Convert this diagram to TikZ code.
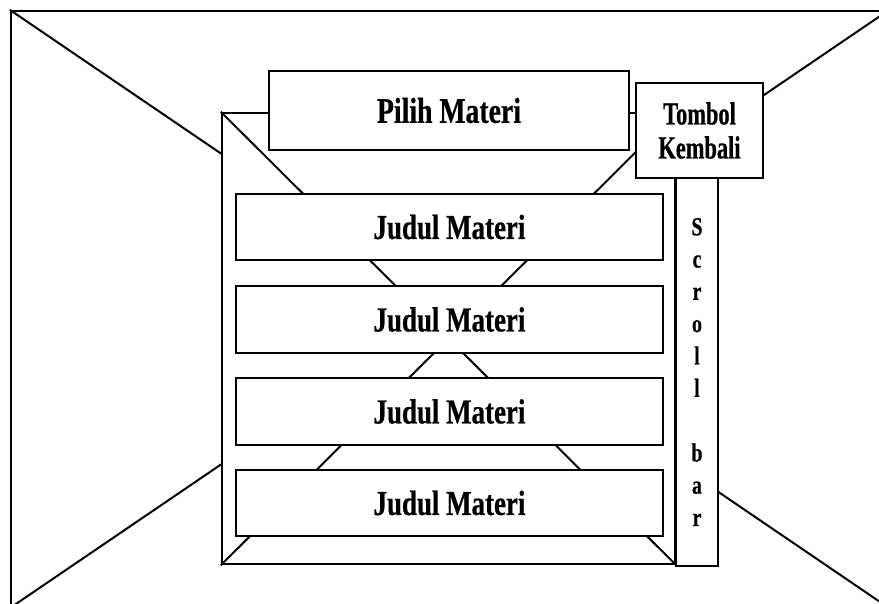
\documentclass[tikz,border=0pt]{standalone}
\usepackage{fontspec}
\newfontfamily\lblfont{Liberation Serif Bold}[FakeStretch=0.77, FakeBold=0.6]
\newfontfamily\btnfont{Liberation Serif Bold}[FakeStretch=0.70, FakeBold=0.6]
\newfontfamily\barfont{Liberation Serif Bold}[FakeStretch=0.76, FakeBold=0.6]
\tikzset{
  outline/.style={draw, line width=2.2pt, inner sep=0pt},
  panel/.style={outline, line width=2.6pt, fill=white},
  itembox/.style={panel, minimum width=427pt, minimum height=66pt,
    font=\lblfont\fontsize{35}{40}\selectfont},
  ray/.style={line width=2pt},
}
\begin{document}
\begin{tikzpicture}[x=1pt, y=-1pt]
\useasboundingbox (0,0) rectangle (879,603);

% room outline with its perspective diagonals
\begin{scope}
  \clip (0,0) rectangle (879,603);
  \node[outline, minimum width=877pt, minimum height=596pt] (room) at (449.5,309) {};
  \draw[ray] (room.north west) -- (room.south east)
             (room.south west) -- (room.north east);
\end{scope}

% back wall with its diagonals
\node[panel, minimum width=453pt, minimum height=451pt] (wall) at (448.5,338.5) {};
\draw[ray] (wall.north west) -- (wall.south east)
           (wall.north east) -- (wall.south west);

% list of items
\node[itembox] (j1) at (449.5,227) {Judul Materi};
\node[itembox, minimum height=67pt] (j2) at (449.5,319.5) {Judul Materi};
\node[itembox, minimum height=67pt] (j3) at (449.5,411.5) {Judul Materi};
\node[itembox] (j4) at (449.5,503) {Judul Materi};

% header
\node[panel, minimum width=360pt, minimum height=79pt,
      font=\lblfont\fontsize{36}{40}\selectfont] (title) at (449,110.5) {Pilih Materi};

% scroll bar
\node[panel, minimum width=42pt, minimum height=388pt, align=center,
      font=\barfont\fontsize{26}{32.3}\selectfont] (scroll) at (697,372)
  {S\\c\\r\\o\\l\\l\\\mbox{}\\b\\a\\r};

% back button
\node[panel, minimum width=127pt, minimum height=95pt, align=center,
      font=\btnfont\fontsize{32}{34}\selectfont] (back) at (699.5,130.5)
  {Tombol\\Kembali};
\end{tikzpicture}
\end{document}
